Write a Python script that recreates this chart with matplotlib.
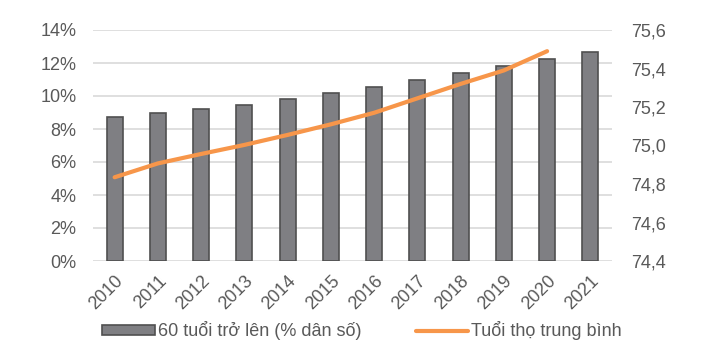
import numpy as np
import matplotlib
matplotlib.use("Agg")
import matplotlib.pyplot as plt
from matplotlib.ticker import FuncFormatter

plt.rcParams["font.family"] = ["Liberation Sans", "DejaVu Sans"]

# ── Daten ─────────────────────────────────────────────────────────────────────
years = ["2010", "2011", "2012", "2013", "2014", "2015",
         "2016", "2017", "2018", "2019", "2020", "2021"]
share_60plus = [8.75, 8.95, 9.23, 9.47, 9.8, 10.16,
                10.56, 10.97, 11.37, 11.8, 12.24, 12.68]
life_years = years[:11]
life_exp = [74.835, 74.907, 74.956, 75.003, 75.055, 75.11,
            75.17, 75.245, 75.32, 75.39, 75.49]

txt = "#595959"
x = np.arange(len(years))

# ── Plot ──────────────────────────────────────────────────────────────────────
fig = plt.figure(figsize=(7.06, 3.58), dpi=100)
ax = fig.add_axes([93 / 706, 1 - 261 / 358, (612 - 93) / 706, (261 - 30) / 358])

bars = ax.bar(x, share_60plus, width=0.37, color="#7f7f83", edgecolor="#505050",
              linewidth=1.2, label="60 tuổi trở lên (% dân số)", zorder=3)
ax.set_xlim(-0.5, len(years) - 0.5)
ax.set_ylim(0, 14)
ax.set_yticks(np.arange(0, 15, 2))
ax.yaxis.set_major_formatter(FuncFormatter(lambda v, p: f"{v:.0f}%"))
ax.grid(axis="y", color="#d9d9d9", lw=1.2, zorder=0)
ax.set_xticks(x)
ax.set_xticklabels(years, rotation=45, ha="right", rotation_mode="anchor")
ax.tick_params(axis="both", length=0, labelsize=13, colors=txt)
ax.tick_params(axis="x", pad=8)
ax.tick_params(axis="y", pad=12)
for s in ax.spines.values():
    s.set_visible(False)

ax2 = ax.twinx()
line, = ax2.plot(np.arange(len(life_years)), life_exp, color="#f7964a", lw=3,
                 solid_capstyle="round", label="Tuổi thọ trung bình", zorder=4)
ax2.set_ylim(74.4, 75.6)
ax2.set_yticks(np.arange(74.4, 75.61, 0.2))
ax2.yaxis.set_major_formatter(FuncFormatter(lambda v, p: f"{v:.1f}".replace(".", ",")))
ax2.tick_params(axis="y", length=0, labelsize=13, colors=txt, pad=14)
for s in ax2.spines.values():
    s.set_visible(False)

fig.legend([bars, line], ["60 tuổi trở lên (% dân số)", "Tuổi thọ trung bình"],
           loc="center", bbox_to_anchor=(362 / 706, 1 - 331 / 358), ncol=2,
           frameon=False, fontsize=13, labelcolor=txt, handlelength=2.9,
           handleheight=0.45, handletextpad=0.17, columnspacing=3.0)

fig.savefig("out.png", dpi=100)
plt.close(fig)
